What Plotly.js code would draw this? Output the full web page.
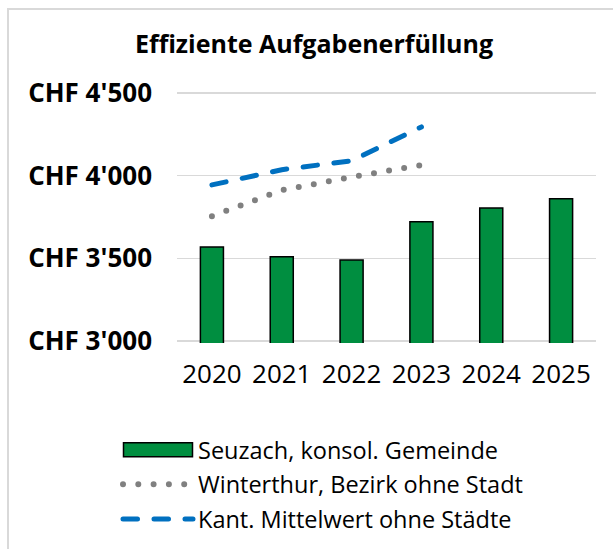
<!DOCTYPE html>
<html>
<head>
<meta charset="utf-8">
<script src="https://cdn.plot.ly/plotly-3.0.1.min.js"></script>
<style>
  html, body { margin: 0; padding: 0; background: #fff; }
  #chart { position: absolute; left: 0; top: 0; width: 613px; height: 549px; }
  #frameL { position: absolute; left: 7px; top: 8px; width: 2px; height: 541px; background: #d9d9d9; }
  #frameT { position: absolute; left: 7px; top: 8px; width: 606px; height: 2px; background: #d9d9d9; }
  .js-line { stroke-linecap: round; }
</style>
</head>
<body>
<div id="chart"></div>
<div id="frameL"></div>
<div id="frameT"></div>
<script>
const years = ['2020', '2021', '2022', '2023', '2024', '2025'];
const lineYears = ['2020', '2021', '2022', '2023'];
const seuzach = [3568, 3510, 3490, 3722, 3804, 3861];
const winterthur = [3755, 3912, 3992, 4064];
const kanton = [3944, 4036, 4090, 4295];
const tickVals = [3000, 3500, 4000, 4500];
const tickText = ["CHF 3'000", "CHF 3'500", "CHF 4'000", "CHF 4'500"];
const names = ['Seuzach, konsol. Gemeinde', 'Winterthur, Bezirk ohne Stadt', 'Kant. Mittelwert ohne Städte'];
const titleText = 'Effiziente Aufgabenerfüllung';

const FONT = '"Open Sans", "Noto Sans", sans-serif';

const traces = [
  {
    type: 'bar', x: years, y: seuzach, name: names[0], legendgroup: 'a',
    marker: { color: '#008E40', line: { color: '#000000', width: 1.5 } },
    hoverinfo: 'none'
  },
  {
    type: 'scatter', mode: 'lines', x: lineYears, y: winterthur, name: names[1], legendgroup: 'b',
    line: { color: '#808080', width: 6, dash: '0px,15.3px' },
    hoverinfo: 'none'
  },
  {
    type: 'scatter', mode: 'lines', x: lineYears, y: kanton, name: names[2], legendgroup: 'c',
    line: { color: '#0070C0', width: 5, dash: '14.5px,16.5px' },
    hoverinfo: 'none'
  }
];

const layout = {
  width: 613, height: 549,
  margin: { l: 177, r: 17, t: 91, b: 206, autoexpand: false },
  paper_bgcolor: 'rgba(0,0,0,0)',
  plot_bgcolor: '#fff',
  font: { family: FONT, color: '#000' },
  title: {
    text: '<b>' + titleText + '</b>',
    font: { family: FONT, size: 25, color: '#000' },
    x: 314 / 613, xanchor: 'center', xref: 'container',
    y: 1 - 44 / 549, yanchor: 'middle', yref: 'container'
  },
  bargap: 0.67,
  showlegend: true,
  legend: {
    orientation: 'v',
    xref: 'container', yref: 'container',
    x: 118 / 613, xanchor: 'left',
    y: 1 - 428 / 549, yanchor: 'top',
    font: { family: FONT, size: 23.5, color: '#000' },
    itemwidth: 70,
    tracegroupgap: 1,
    bgcolor: 'rgba(0,0,0,0)'
  },
  xaxis: {
    type: 'category', automargin: false,
    showgrid: false, zeroline: false, showline: false,
    ticks: '',
    tickfont: { family: FONT, size: 26, color: '#000' },
    ticklabelstandoff: 13
  },
  yaxis: {
    range: [2988, 4512], automargin: false,
    tickvals: tickVals, ticktext: tickText,
    showgrid: true, gridcolor: '#d9d9d9', gridwidth: 1.5,
    zeroline: false, showline: false, ticks: '',
    tickfont: { family: FONT, size: 26, color: '#000', weight: 'bold' },
    ticklabelstandoff: 24
  }
};

Plotly.newPlot('chart', traces, layout, { staticPlot: true, displayModeBar: false }).then(function (gd) {
  const first = gd.querySelector('.legend .traces .legendpoints path');
  if (first) {
    first.setAttribute('d', 'M-34.5,7h69v-14h-69Z');
  }
});
</script>
</body>
</html>
